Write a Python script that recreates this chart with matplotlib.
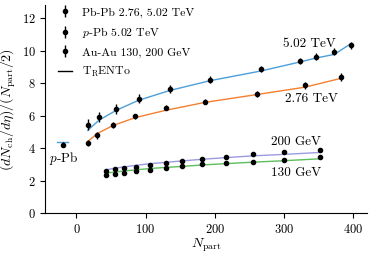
import matplotlib
matplotlib.use("Agg")
import matplotlib.pyplot as plt

plt.rcParams["font.family"] = ["cmr10", "DejaVu Serif"]
plt.rcParams["mathtext.fontset"] = "cm"
plt.rcParams["axes.formatter.use_mathtext"] = True
plt.rcParams["font.size"] = 8.5

# Pb-Pb 5.02 TeV
npart_502 = [16.5, 32.4, 57.5, 90, 135, 193, 267, 323, 347, 373, 397]
mult_502 = [5.45, 5.92, 6.42, 7.05, 7.65, 8.2, 8.86, 9.36, 9.63, 9.94, 10.33]
err_502 = [0.35, 0.33, 0.3, 0.28, 0.25, 0.22, 0.2, 0.2, 0.2, 0.2, 0.2]
trento_502 = [5.1, 5.72, 6.33, 6.95, 7.55, 8.15, 8.75, 9.3, 9.55, 9.77, 10.43]

# Pb-Pb 2.76 TeV
npart_276 = [16, 30, 53, 85, 129, 186, 261, 330, 383]
mult_276 = [4.32, 4.79, 5.41, 5.96, 6.48, 6.87, 7.33, 7.86, 8.37]
err_276 = [0.2, 0.2, 0.18, 0.16, 0.15, 0.15, 0.18, 0.2, 0.25]
trento_276 = [4.4, 4.9, 5.4, 5.88, 6.33, 6.82, 7.3, 7.75, 8.3]

# p-Pb 5.02 TeV
npart_ppb = [-20]
mult_ppb = [4.22]
err_ppb = [0.15]
trento_ppb_x = [-27.5, -12]
trento_ppb = [4.38, 4.38]

# Au-Au 200 / 130 GeV
npart_auau = [43, 55, 69, 86, 107, 129, 153, 182, 216, 255, 300, 353]
mult_200 = [2.62, 2.70, 2.78, 2.87, 2.97, 3.07, 3.22, 3.35, 3.49, 3.62, 3.74, 3.9]
mult_130 = [2.36, 2.43, 2.50, 2.58, 2.67, 2.76, 2.88, 3.0, 3.08, 3.17, 3.29, 3.45]
err_auau = [0.12] * 12
trento_200 = [2.67, 2.77, 2.85, 2.95, 3.05, 3.13, 3.22, 3.32, 3.42, 3.53, 3.62, 3.74]
trento_130 = [2.47, 2.53, 2.6, 2.67, 2.75, 2.82, 2.88, 2.97, 3.05, 3.14, 3.23, 3.35]

blue = "#4c9fd9"
orange = "#f28030"
purple = "#9b9be0"
green = "#5cbf5c"

fig = plt.figure(figsize=(3.72, 2.56), dpi=100)
ax = fig.add_axes([0.122, 0.167, 0.864, 0.813])

ax.plot(npart_502, trento_502, color=blue, lw=1)
ax.plot(npart_276, trento_276, color=orange, lw=1)
ax.plot(trento_ppb_x, trento_ppb, color=blue, lw=1)
ax.plot(npart_auau, trento_200, color=purple, lw=1)
ax.plot(npart_auau, trento_130, color=green, lw=1)

ebkw = dict(fmt="o", color="black", ms=3, capsize=0, elinewidth=1)
h1 = ax.errorbar(npart_502, mult_502, yerr=err_502, **ebkw)
ax.errorbar(npart_276, mult_276, yerr=err_276, **ebkw)
h2 = ax.errorbar(npart_ppb, mult_ppb, yerr=err_ppb, **ebkw)
h3 = ax.errorbar(npart_auau, mult_200, yerr=err_auau, **ebkw)
ax.errorbar(npart_auau, mult_130, yerr=err_auau, **ebkw)
h4, = ax.plot([], [], color="black", lw=1)

note = dict(ha="center", va="center", fontsize=9.5)
ax.text(337, 10.39, "5.02 TeV", **note)
ax.text(340, 7.0, "2.76 TeV", **note)
ax.text(317, 4.36, "200 GeV", **note)
ax.text(317, 2.47, "130 GeV", **note)
ax.text(-18, 3.37, r"$p$-Pb", **note)

ax.set_xlim(-45, 420)
ax.set_ylim(0, 12.8)
ax.set_xticks([0, 100, 200, 300, 400])
ax.set_yticks([0, 2, 4, 6, 8, 10, 12])
ax.set_xlabel(r"$N_\mathrm{part}$", fontsize=10)
ax.set_ylabel(r"$(dN_\mathrm{ch}/d\eta)/(N_\mathrm{part}/2)$", fontsize=10)
ax.yaxis.set_label_coords(-0.085, 0.5)
ax.xaxis.set_label_coords(0.5, -0.115)
ax.spines["top"].set_visible(False)
ax.spines["right"].set_visible(False)
ax.tick_params(direction="out", length=3.5, width=0.8, labelsize=9)

ax.legend([h1, h2, h3, h4],
          ["Pb-Pb 2.76, 5.02 TeV", r"$p$-Pb 5.02 TeV", "Au-Au 130, 200 GeV",
           r"T$_\mathrm{R}$ENTo"],
          loc="upper left", frameon=False, handlelength=1.2, handletextpad=0.85,
          labelspacing=0.62, borderpad=0, borderaxespad=0,
          bbox_to_anchor=(0.04, 0.99))

fig.savefig("out.png", dpi=100)
